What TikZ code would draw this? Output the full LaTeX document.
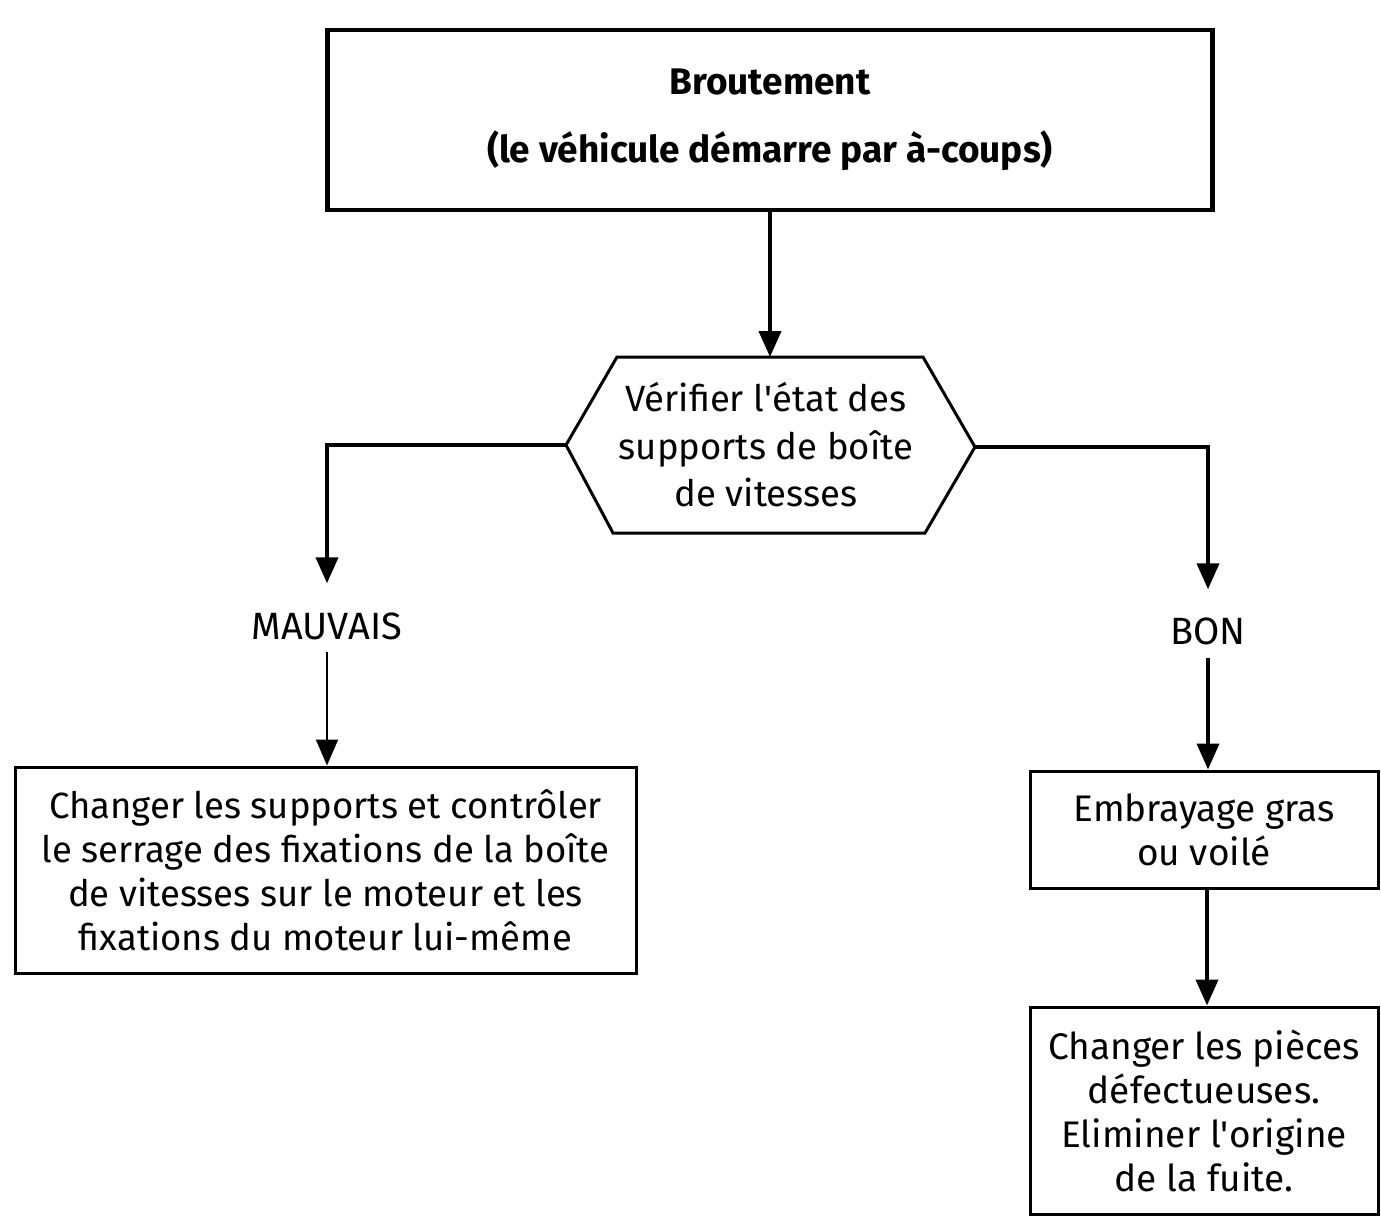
\documentclass[tikz,border=0pt]{standalone}
\usepackage{fontspec}
\setmainfont{Fira Sans}
\usetikzlibrary{arrows.meta}
\begin{document}
\begin{tikzpicture}[x=1pt,y=-1pt,
  box/.style={draw, line width=3pt, align=center, inner sep=0pt},
  conn/.style={line width=4pt, -{Triangle[width=22pt,length=26pt]}},
  thinconn/.style={line width=2pt, -{Triangle[width=22pt,length=26pt]}},
  lbl/.style={inner sep=0pt, text height=25pt, text depth=0pt, font=\fontsize{38}{44}\selectfont}
]
\useasboundingbox (0,0) rectangle (1381,1220);

% problem statement
\node[box, line width=4.5pt, minimum width=885pt, minimum height=180pt,
      font=\fontsize{37}{68}\selectfont\bfseries] (top) at (770,120)
  {Broutement\\(le véhicule démarre par à-coups)};

% check: flat-topped hexagon
\coordinate (chkN) at (770,357);
\coordinate (chkW) at (566,445);
\coordinate (chkE) at (975,447);
\draw[line width=3pt, line join=miter] (617,357) -- (923,357) -- (chkE) -- (925,533)
  -- (613,533) -- (chkW) -- cycle;
\node[align=center, inner sep=0pt, font=\fontsize{36.5}{47.5}\selectfont] (chk) at (766,445)
  {Vérifier l\textquotesingle état des\\supports de boîte\\de vitesses};

% outcome labels
\node[lbl] (mauvais) at (327,627) {MAUVAIS};
\node[lbl] (bon) at (1208,632) {BON};

% remedy boxes
\node[box, minimum width=621pt, minimum height=206pt,
      font=\fontsize{36.5}{44}\selectfont] (lbox) at (325.5,870)
  {Changer les supports et contrôler\\le serrage des fixations de la boîte\\de vitesses sur le moteur et les\\fixations du moteur lui-même};
\node[box, minimum width=348pt, minimum height=117pt,
      font=\fontsize{37}{44}\selectfont] (rbox1) at (1204,829.5)
  {Embrayage gras\\ou voilé};
\node[box, minimum width=348pt, minimum height=207pt,
      font=\fontsize{37}{44}\selectfont] (rbox2) at (1204,1110.5)
  {Changer les pièces\\défectueuses.\\Eliminer l\textquotesingle origine\\de la fuite.};

% connectors
\draw[conn] (top.south -| chkN) -- (chkN);
\draw[conn, shorten >=31pt] (chkW) -| (mauvais.north);
\draw[conn, shorten >=30pt] (chkE) -| (bon.north);
\draw[thinconn, shorten <=12pt] (mauvais.south) -- (mauvais.south |- lbox.north);
\draw[conn, shorten <=13pt] (bon.south) -- (bon.south |- rbox1.north);
\draw[conn] (rbox1.south -| 1207,0) -- (rbox2.north -| 1207,0);
\end{tikzpicture}
\end{document}
